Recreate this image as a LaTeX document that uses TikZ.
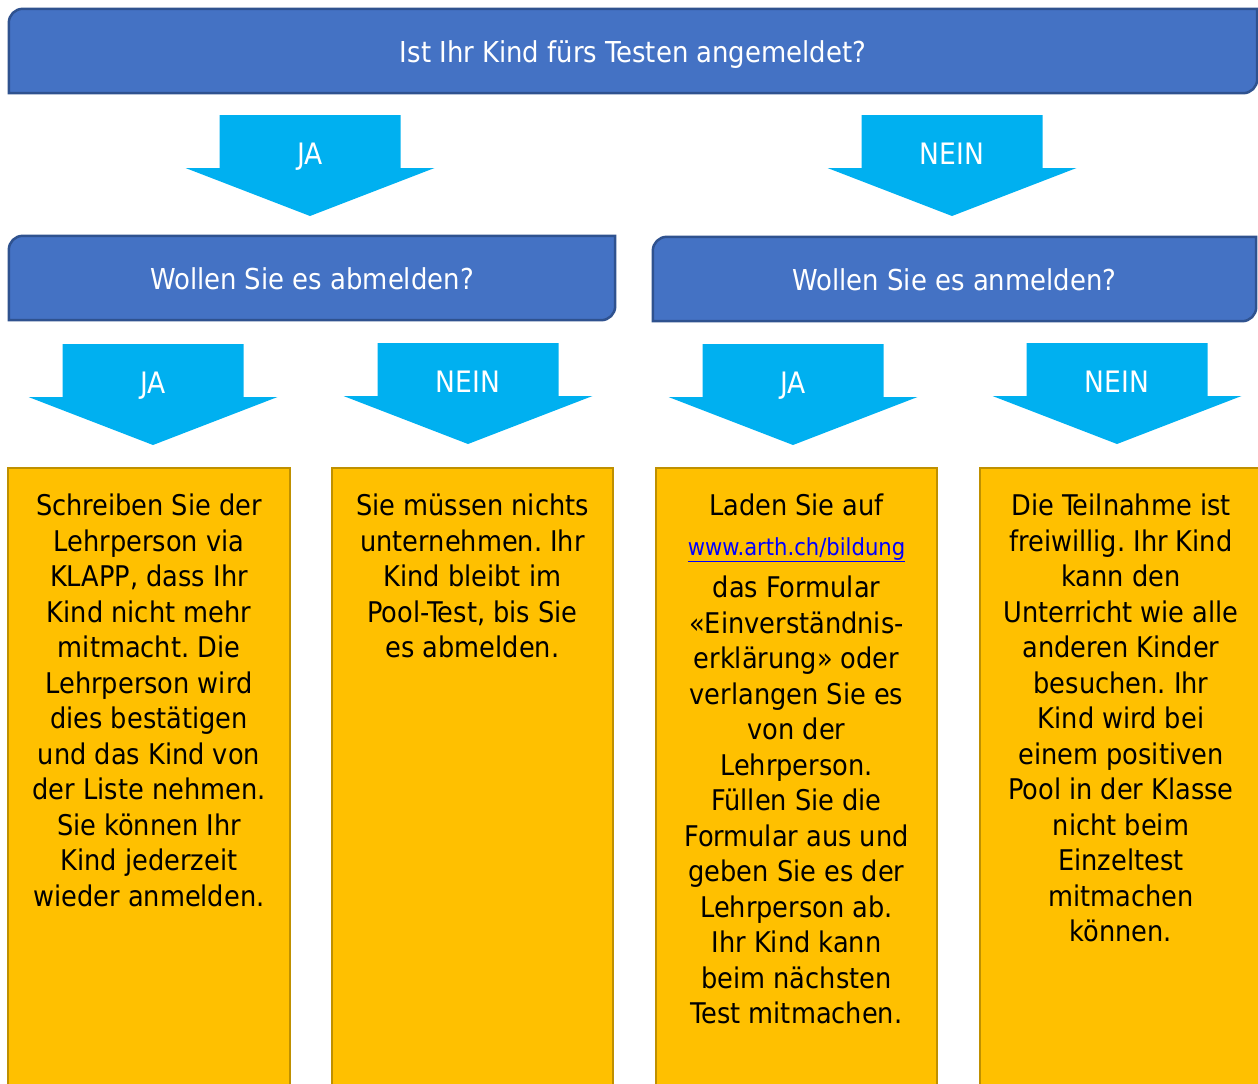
\documentclass[tikz,border=0pt]{standalone}
\usepackage{fontspec}
\setmainfont{DejaVu Sans Condensed}
\usepackage{tikz}
\usetikzlibrary{positioning,backgrounds}
\definecolor{bannerblue}{HTML}{4472C4}
\definecolor{bannerline}{HTML}{2F528F}
\definecolor{arrowblue}{HTML}{00B0F0}
\definecolor{boxyellow}{HTML}{FFC000}
\definecolor{boxline}{HTML}{BF9000}
\definecolor{linkblue}{HTML}{0000FF}
\frenchspacing
\tikzset{
  banner/.style={minimum height=84pt, inner sep=0pt, text=white,
    text height=22pt, text depth=0pt, font=\fontsize{28.8}{34}\selectfont},
  bannerpath/.style={fill=bannerblue, draw=bannerline, line width=2.5pt},
  answerbox/.style={anchor=north, fill=boxyellow, draw=boxline, line width=2pt,
    minimum height=640pt, inner sep=0pt},
  boxtext/.style={align=center, inner sep=0pt, font=\fontsize{28.5}{35.5}\selectfont},
  arrowlabel/.style={text=white, inner sep=0pt, text height=22pt, text depth=0pt,
    font=\fontsize{29.5}{34}\selectfont},
  pics/downarrow/.style={code={
    \fill[arrowblue] (-90.5,0) -- (90.5,0) -- (90.5,53) -- (124.5,53) -- (0,101)
      -- (-124.5,53) -- (-90.5,53) -- cycle;
    \node[arrowlabel] (-label) at (0,38) {#1};
  }}
}
\newcommand{\bannershape}[1]{%
  \path[bannerpath] (#1.south west) -- ([yshift=-14pt]#1.north west)
    arc[start angle=180, end angle=90, radius=14pt] -- (#1.north east)
    -- ([yshift=14pt]#1.south east) arc[start angle=0, end angle=-90, radius=14pt]
    -- cycle;}
\begin{document}
\begin{tikzpicture}[x=1pt, y=-1pt]
  \useasboundingbox (0,0) rectangle (1258,1084);
  \clip (0,0) rectangle (1258,1084);
  \node[banner, minimum width=1248pt] (frage) at (633,51) {Ist Ihr Kind fürs Testen angemeldet?};
  \node[banner, minimum width=606pt] (abmelden) at (312,278) {Wollen Sie es abmelden?};
  \node[banner, minimum width=603pt] (anmelden) at (954.5,279) {Wollen Sie es anmelden?};
  \begin{scope}[on background layer]
    \bannershape{frage}
    \bannershape{abmelden}
    \bannershape{anmelden}
  \end{scope}
  \pic (ja0) at (310,115) {downarrow=JA};
  \pic (nein0) at (952,115) {downarrow=NEIN};
  \pic (ja1) at (153,344) {downarrow=JA};
  \pic (nein1) at (468,343) {downarrow=NEIN};
  \pic (ja2) at (793,344) {downarrow=JA};
  \pic (nein2) at (1117,343) {downarrow=NEIN};
  \node[answerbox, minimum width=282pt] (box1) at (149,467) {};
  \node[answerbox, minimum width=281pt] (box2) at (472.5,467) {};
  \node[answerbox, minimum width=281pt] (box3) at (796.5,467) {};
  \node[answerbox, minimum width=282pt] (box4) at (1121,467) {};
  \node[boxtext, below=27pt of box1.north] (text1) {Schreiben Sie der\\Lehrperson via\\KLAPP, dass Ihr\\Kind nicht mehr\\mitmacht. Die\\Lehrperson wird\\dies bestätigen\\und das Kind von\\der Liste nehmen.\\Sie können Ihr\\Kind jederzeit\\wieder anmelden.};
  \node[boxtext, below=27pt of box2.north] (text2) {Sie müssen nichts\\unternehmen. Ihr\\Kind bleibt im\\Pool-Test, bis Sie\\es abmelden.};
  \node[boxtext, below=27pt of box3.north] (text3) {Laden Sie auf\\[4pt]{\fontsize{23.5}{26}\selectfont\color{linkblue}\underline{www.arth.ch/bildung}}\\[7pt]das Formular\\«Einverständnis-\\erklärung» oder\\verlangen Sie es\\von der\\Lehrperson.\\Füllen Sie die\\Formular aus und\\geben Sie es der\\Lehrperson ab.\\Ihr Kind kann\\beim nächsten\\Test mitmachen.};
  \node[boxtext, below=27pt of box4.north] (text4) {Die Teilnahme ist\\freiwillig. Ihr Kind\\kann den\\Unterricht wie alle\\anderen Kinder\\besuchen. Ihr\\Kind wird bei\\einem positiven\\Pool in der Klasse\\nicht beim\\Einzeltest\\mitmachen\\können.};
\end{tikzpicture}
\end{document}
